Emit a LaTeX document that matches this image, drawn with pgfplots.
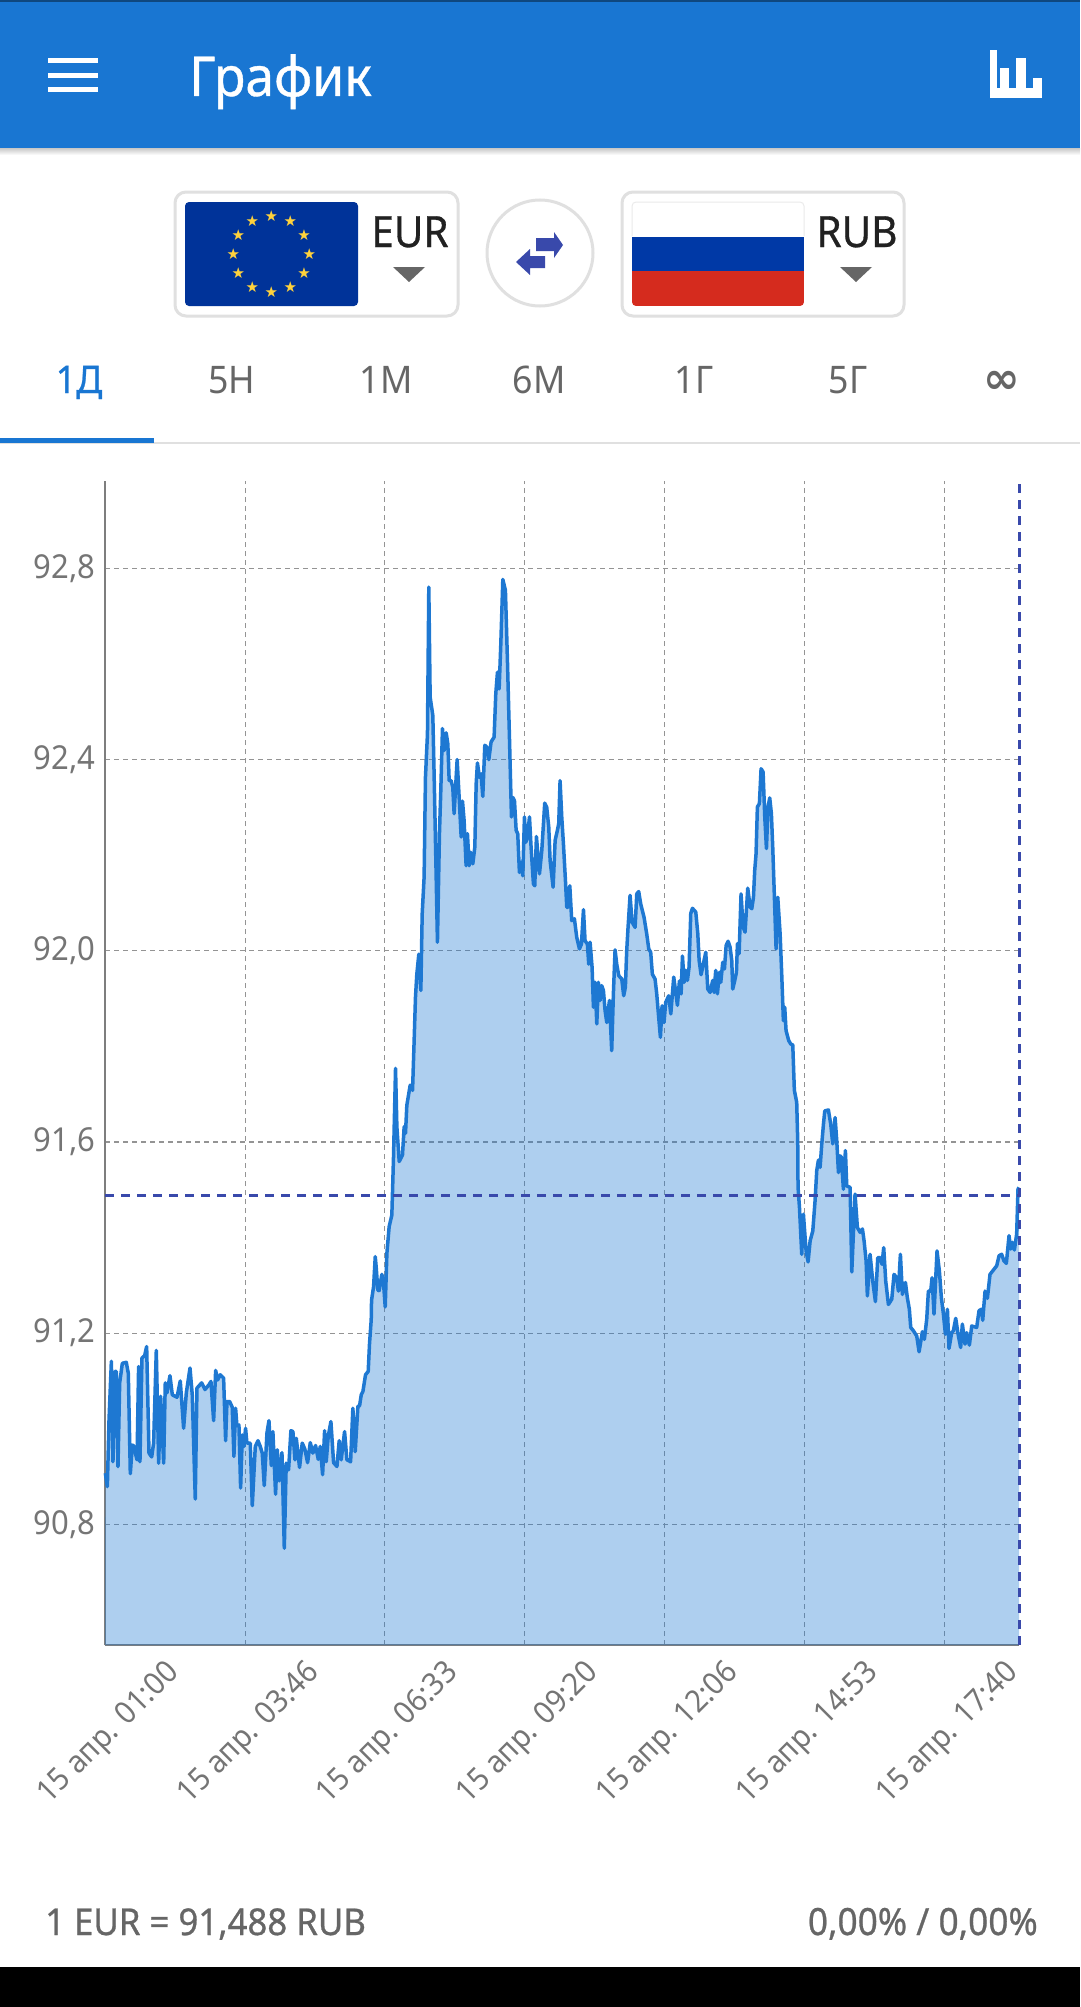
\documentclass[border=0pt]{standalone}
\usepackage{fontspec}
\setmainfont[FakeStretch=0.94]{Noto Sans}
\newfontfamily\symfont{DejaVu Sans}
\newfontfamily\medfont[FakeBold=0.7,FakeStretch=0.94]{Noto Sans}
\usepackage{pgfplots}
\usepackage{pgfplotstable}
\pgfplotsset{compat=1.18}

\definecolor{barblue}{HTML}{1976D2}
\definecolor{linecol}{HTML}{1E78D2}
\definecolor{cross}{HTML}{3949AB}
\definecolor{gridcol}{HTML}{949494}
\definecolor{labcol}{HTML}{757575}
\definecolor{txtcol}{HTML}{666666}
\definecolor{boxcol}{HTML}{E0E0E0}
\definecolor{eublue}{HTML}{003399}
\definecolor{rured}{HTML}{D52B1E}
\definecolor{rublue}{HTML}{0039A6}
\definecolor{star}{HTML}{FFD23C}

% minutes since midnight, EUR/RUB rate
\pgfplotstableread{
t v
60.4 90.907
62.8 90.879
64.8 91.019
67.6 91.141
69.5 90.931
71.9 91.120
73.5 91.120
75.5 90.921
77.5 91.096
80.7 91.137
85.4 91.139
87.8 91.116
90.2 90.906
92.6 90.966
94.2 90.964
98.2 90.935
100.1 91.130
101.7 90.931
104.1 91.148
107.3 91.153
109.7 91.172
112.5 90.949
115.7 90.941
118.0 90.970
121.2 91.164
124.0 90.928
126.4 91.068
130.0 90.928
131.9 91.096
133.9 91.075
137.5 91.111
140.3 91.071
145.9 91.066
149.8 91.100
153.8 91.001
157.0 91.075
161.4 91.127
164.1 91.071
167.7 90.853
169.7 91.085
175.3 91.096
179.3 91.082
184.0 91.092
186.4 91.099
189.6 91.017
192.0 91.122
194.4 91.102
197.5 91.113
201.5 91.106
203.9 90.975
205.5 91.057
208.7 91.057
211.8 91.045
213.8 90.942
215.8 91.043
217.4 91.006
219.8 91.008
221.8 90.876
223.8 90.987
225.8 90.963
227.7 91.001
229.3 90.970
233.3 90.970
235.7 90.839
239.3 90.963
242.5 90.975
245.2 90.963
247.6 90.949
250.0 90.881
253.2 90.991
255.6 91.017
258.4 90.923
260.3 90.994
263.5 90.863
265.5 90.956
267.9 90.891
271.1 90.950
273.9 90.750
276.2 90.928
279.0 90.914
281.8 90.996
284.2 90.994
286.6 90.935
288.2 90.980
292.1 90.919
295.3 90.970
298.5 90.957
301.7 90.929
304.9 90.971
308.0 90.949
311.2 90.965
314.4 90.936
316.8 90.963
319.6 90.904
322.0 90.996
323.9 90.931
326.3 90.984
329.5 91.015
332.7 90.929
336.7 90.921
339.4 90.975
341.8 90.935
345.8 90.994
348.6 90.935
353.0 90.931
355.7 91.043
358.5 90.952
361.7 91.047
363.7 91.048
365.7 91.071
367.7 91.078
370.8 91.113
374.0 91.120
375.6 91.179
377.6 91.228
378.0 91.269
380.4 91.297
382.4 91.360
383.5 91.339
385.5 91.290
387.1 91.289
390.3 91.323
392.3 91.304
394.3 91.255
396.3 91.367
399.0 91.423
402.2 91.447
404.2 91.569
406.6 91.754
408.2 91.632
411.0 91.559
414.9 91.573
416.9 91.632
418.5 91.618
420.1 91.677
424.1 91.719
426.9 91.708
428.8 91.812
430.4 91.903
432.0 91.951
434.4 91.993
436.8 91.917
438.4 92.077
440.7 92.154
442.3 92.363
444.7 92.454
446.3 92.761
447.9 92.531
451.1 92.492
452.7 92.363
455.1 92.154
456.6 92.018
459.0 92.245
460.6 92.335
462.6 92.465
464.6 92.419
467.0 92.456
469.0 92.433
470.6 92.356
472.9 92.356
474.9 92.342
476.5 92.287
480.1 92.400
482.5 92.321
484.9 92.238
486.5 92.313
488.4 92.273
490.8 92.178
492.4 92.245
494.4 92.178
496.4 92.206
498.8 92.182
501.2 92.217
502.8 92.349
504.3 92.393
506.7 92.363
508.7 92.370
510.7 92.323
513.1 92.430
515.5 92.426
517.9 92.400
520.6 92.437
524.2 92.447
526.2 92.538
528.2 92.583
530.2 92.548
532.2 92.642
534.6 92.777
537.7 92.754
540.1 92.608
542.5 92.447
544.9 92.280
546.5 92.321
548.5 92.314
550.5 92.252
552.4 92.245
554.4 92.164
556.4 92.185
558.4 92.157
560.4 92.280
562.0 92.227
564.0 92.238
566.4 92.280
568.3 92.217
571.1 92.140
572.7 92.136
574.7 92.239
578.3 92.161
581.1 92.210
584.6 92.309
587.0 92.300
589.4 92.259
591.0 92.189
594.6 92.133
597.0 92.231
599.7 92.252
601.3 92.266
602.9 92.356
604.9 92.280
606.9 92.224
609.3 92.147
610.9 92.091
612.5 92.091
614.5 92.136
616.8 92.063
620.0 92.067
622.8 92.028
626.0 92.004
628.4 92.014
630.8 92.086
632.7 92.021
635.5 92.014
637.1 91.972
638.7 92.018
641.1 91.965
642.7 91.882
644.7 91.934
646.7 91.847
648.6 91.934
650.6 91.896
652.6 91.927
654.6 91.917
656.6 91.875
658.6 91.850
661.8 91.896
664.5 91.791
666.5 91.910
668.5 92.002
670.5 91.972
672.9 91.948
676.5 91.941
678.8 91.906
680.8 91.924
682.4 92.000
684.0 92.049
686.4 92.116
688.8 92.060
692.4 92.049
694.4 92.119
696.7 92.124
699.1 92.098
701.1 92.084
703.1 92.070
706.3 92.035
708.7 92.004
711.0 91.997
713.0 91.951
716.2 91.941
718.2 91.910
720.2 91.868
722.6 91.819
724.6 91.885
726.9 91.850
728.9 91.892
732.5 91.906
735.0 91.868
738.5 91.945
742.9 91.886
745.3 91.937
747.3 91.910
748.9 91.989
750.9 91.934
752.9 91.959
754.8 91.938
756.8 91.966
758.8 92.078
760.8 92.089
764.8 92.081
767.2 92.036
768.8 91.980
771.1 91.950
773.9 91.973
776.7 91.997
779.1 91.920
781.9 91.913
785.0 91.938
786.6 91.913
788.6 91.959
790.6 91.910
793.0 91.955
794.6 91.934
797.0 91.976
799.0 91.962
801.0 92.011
803.3 92.020
805.7 92.008
807.7 91.980
808.9 91.920
811.3 91.938
813.3 91.955
814.5 92.015
816.5 91.994
818.8 92.119
821.2 92.050
823.6 92.039
826.8 92.131
829.6 92.092
831.6 92.088
833.6 92.112
835.1 92.168
836.7 92.203
838.3 92.301
840.7 92.308
842.7 92.381
845.1 92.374
847.1 92.280
849.1 92.214
851.0 92.301
853.0 92.320
855.0 92.287
856.6 92.217
858.2 92.133
860.6 92.004
862.6 92.112
865.4 92.036
867.3 91.952
869.3 91.854
870.9 91.882
872.5 91.833
875.7 91.812
878.1 91.805
880.5 91.803
882.4 91.708
885.2 91.683
886.4 91.603
886.8 91.505
888.5 91.463
891.2 91.365
893.2 91.449
896.4 91.372
898.8 91.349
901.2 91.393
904.4 91.414
907.1 91.477
909.1 91.540
911.1 91.562
913.1 91.547
915.1 91.596
917.1 91.637
918.7 91.665
923.0 91.667
925.8 91.637
928.2 91.596
931.0 91.651
933.0 91.602
935.0 91.536
937.0 91.571
938.5 91.568
940.9 91.501
943.3 91.582
944.9 91.508
948.9 91.505
950.9 91.328
954.8 91.491
957.6 91.421
960.8 91.411
963.6 91.418
965.6 91.393
968.0 91.351
969.5 91.278
972.7 91.365
975.9 91.309
979.1 91.266
981.9 91.358
984.7 91.358
987.0 91.344
989.0 91.379
991.4 91.309
994.6 91.260
998.6 91.271
1001.3 91.323
1004.5 91.316
1006.5 91.288
1008.9 91.365
1011.3 91.281
1014.9 91.306
1017.2 91.274
1019.6 91.250
1021.2 91.212
1024.4 91.205
1028.4 91.194
1031.2 91.161
1035.1 91.203
1037.5 91.187
1040.3 91.229
1042.3 91.288
1045.1 91.288
1046.7 91.316
1049.0 91.240
1052.6 91.372
1055.4 91.330
1057.8 91.274
1060.2 91.240
1062.6 91.198
1065.0 91.250
1066.9 91.168
1070.1 91.201
1072.1 91.205
1074.9 91.231
1077.7 91.198
1080.8 91.170
1082.8 91.219
1086.0 91.177
1088.0 91.201
1091.2 91.175
1094.0 91.215
1099.9 91.212
1102.7 91.247
1105.5 91.250
1107.1 91.227
1109.9 91.288
1112.7 91.273
1115.8 91.323
1119.8 91.332
1123.8 91.341
1126.6 91.362
1129.7 91.365
1132.5 91.351
1135.3 91.346
1138.5 91.404
1140.5 91.376
1142.5 91.390
1144.9 91.374
1147.6 91.407
1149.2 91.501
1150.4 91.505
}\ratedata

\begin{document}
\begin{tikzpicture}[x=1pt,y=-1pt]
\path[use as bounding box] (0,0) rectangle (1080,2007);
\fill[white] (0,0) rectangle (1080,2007);

% app bar
\fill[barblue] (0,0) rectangle (1080,148);
\fill[barblue!60!black] (0,0) rectangle (1080,2);
\shade[top color=black!22,bottom color=white] (0,148) rectangle (1080,155);
\fill[white] (48,58) rectangle (98,63);
\fill[white] (48,73) rectangle (98,78);
\fill[white] (48,87) rectangle (98,92);
\node[anchor=base west,inner sep=0pt,white,font=\medfont\fontsize{55}{55}\selectfont] at (189,96) {График};
\fill[white] (990,88) rectangle (1042,98);
\fill[white] (990,50) rectangle (997,90);
\fill[white] (1000,68) rectangle (1009,90);
\fill[white] (1016,58) rectangle (1026,90);
\fill[white] (1033,78) rectangle (1042,90);

% currency selectors
\draw[boxcol,line width=3pt,rounded corners=11pt] (175,192) rectangle (458,316);
\fill[eublue,rounded corners=4pt] (185,202) rectangle (358,306);
\foreach \a in {0,30,...,330}
  \node[inner sep=0pt,text=star,font=\symfont\fontsize{15}{15}\selectfont]
    at ({271.3+38*cos(\a)},{254+38*sin(\a)}) {★};
\node[anchor=base,inner sep=0pt,text=black!87,font=\medfont\fontsize{43}{43}\selectfont] at (410,247) {EUR};
\fill[txtcol] (393,267) -- (425,267) -- (409,282) -- cycle;

\draw[boxcol,line width=3pt] (540,253) circle (53);
\fill[cross] (563,245) -- (554,232) -- (554,238) -- (536,238) -- (536,251) -- (554,251) -- (554,258) -- cycle;
\fill[cross] (516,262) -- (530,249) -- (530,256) -- (545,256) -- (545,268) -- (530,268) -- (530,275) -- cycle;

\draw[boxcol,line width=3pt,rounded corners=11pt] (622,192) rectangle (904,316);
\begin{scope}
\clip[rounded corners=4pt] (632,202) rectangle (804,306);
\fill[white] (632,202) rectangle (804,237);
\fill[rublue] (632,237) rectangle (804,271);
\fill[rured] (632,271) rectangle (804,306);
\end{scope}
\draw[black!8,line width=1pt,rounded corners=4pt] (632,236) -- (632,202) -- (804,202) -- (804,236);
\node[anchor=base,inner sep=0pt,text=black!87,font=\medfont\fontsize{43}{43}\selectfont] at (857,247) {RUB};
\fill[txtcol] (840,267) -- (872,267) -- (856,282) -- cycle;

% period tabs
\foreach \px/\lab in {232/5Н,386/1М,539/6М,694/1Г,848/5Г}
  \node[anchor=base,inner sep=0pt,text=txtcol,font=\fontsize{38}{38}\selectfont] at (\px,393) {\lab};
\node[anchor=base,inner sep=0pt,text=barblue,font=\medfont\fontsize{38}{38}\selectfont] at (79,393) {1Д};
\node[anchor=base,inner sep=0pt,text=txtcol,font=\symfont\bfseries\fontsize{44}{44}\selectfont] at (1002,393) {∞};
\fill[black!12] (0,442) rectangle (1080,444);
\fill[barblue] (0,438) rectangle (154,443);

\begin{axis}[
    at={(105pt,-1645pt)},
    anchor=south west,
    scale only axis,
    width=914pt, height=1164pt,
    xmin=60, xmax=1150.4,
    ymin=90.5475, ymax=92.983,
    axis x line*=bottom,
    axis y line*=left,
    axis line style={draw=gridcol!85!black,line width=1.5pt,-},
    clip=false,
    xtick={60,227.4,393.5,560.2,727.2,894.2,1061.2},
    xticklabels={15 апр. 01:00,15 апр. 03:46,15 апр. 06:33,15 апр. 09:20,15 апр. 12:06,15 апр. 14:53,15 апр. 17:40},
    ytick={90.8,91.2,91.6,92.0,92.4,92.8},
    major tick length=0pt,
    grid=major,
    major grid style={draw=gridcol,line width=1.3pt,dash pattern=on 5pt off 4pt},
    tick label style={text=labcol},
    yticklabel style={font=\fontsize{33}{33}\selectfont,/pgf/number format/fixed,/pgf/number format/fixed zerofill,
        /pgf/number format/precision=1,/pgf/number format/use comma,/pgf/number format/assume math mode=true,
        anchor=east,xshift=-6pt},
    xticklabel style={font=\fontsize{31}{31}\selectfont,rotate=45,anchor=east,xshift=36pt,yshift=-66pt},
]
\addplot[draw=none,fill=barblue,fill opacity=0.35] table[x=t,y=v] {\ratedata} |- (axis cs:60,90.5475) -- cycle;
\addplot[linecol,line width=3.5pt,line join=round] table[x=t,y=v] {\ratedata};
\addplot[cross,line width=3pt,dash pattern=on 9pt off 7pt] coordinates {(60,91.488) (1150.4,91.488)};
\addplot[cross,line width=3pt,dash pattern=on 9pt off 7pt] coordinates {(1150.4,90.5475) (1150.4,92.983)};
\end{axis}

% rate line and footer
\node[anchor=base west,inner sep=0pt,text=txtcol,font=\medfont\fontsize{37}{37}\selectfont] at (45,1935) {1 EUR = 91,488 RUB};
\node[anchor=base east,inner sep=0pt,text=txtcol,font=\medfont\fontsize{37.5}{38}\selectfont] at (1038,1935) {0,00\% / 0,00\%};
\fill[black] (0,1967) rectangle (1080,2007);
\end{tikzpicture}
\end{document}
